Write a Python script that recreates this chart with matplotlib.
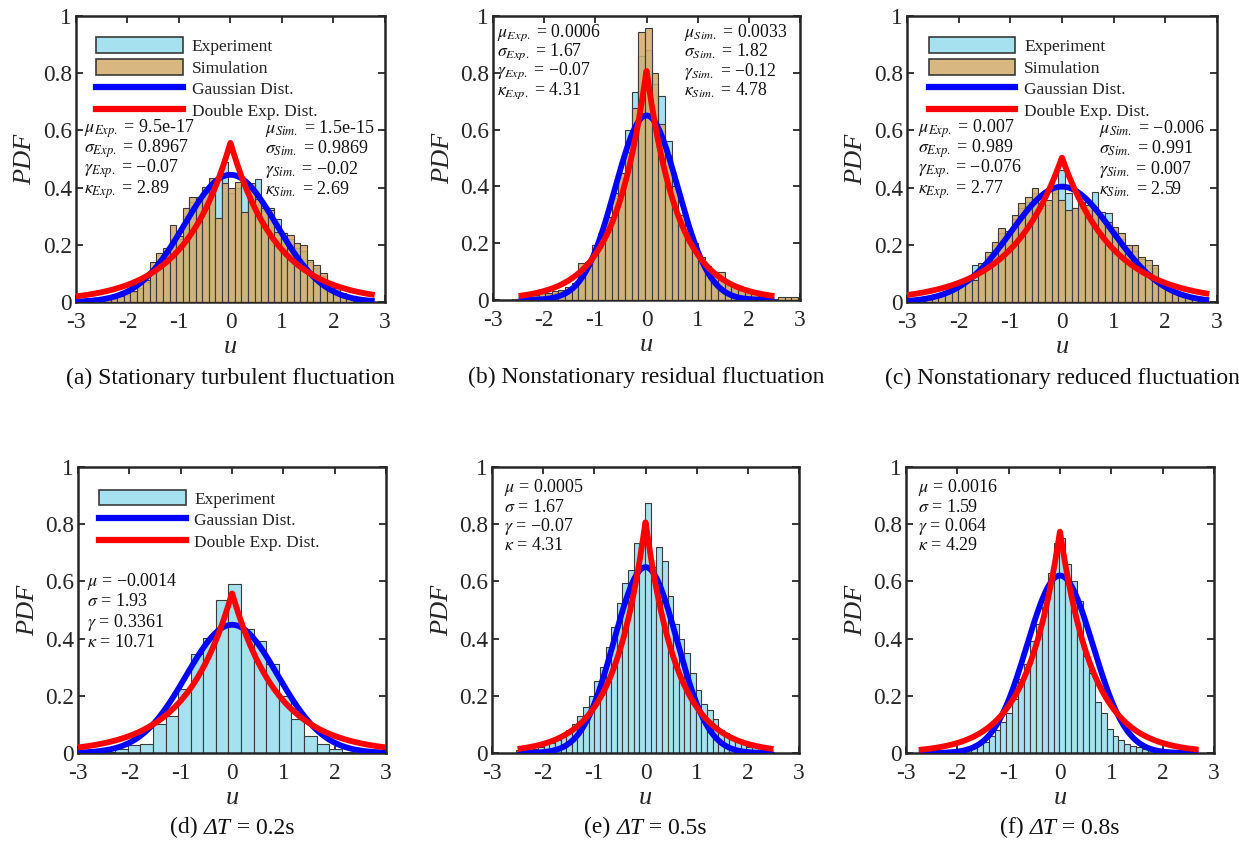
import numpy as np
import matplotlib
matplotlib.use("Agg")
import matplotlib.pyplot as plt
from matplotlib.patches import Patch
from matplotlib.lines import Line2D
from matplotlib.colors import to_rgba
from matplotlib.offsetbox import TextArea, HPacker, AnchoredOffsetbox

plt.rcParams['font.family'] = ['Liberation Serif', 'DejaVu Serif']
plt.rcParams['mathtext.fontset'] = 'stix'

# ------------------------------------------------------------------ data
# captions: (prefix, italic part, suffix)
captions = [('(a) Stationary turbulent fluctuation', '', ''),
            ('(b) Nonstationary residual fluctuation', '', ''),
            ('(c) Nonstationary reduced fluctuation', '', ''),
            ('(d) ', 'ΔT', ' = 0.2s'),
            ('(e) ', 'ΔT', ' = 0.5s'),
            ('(f) ', 'ΔT', ' = 0.8s')]

# histogram bins: first left edge and bin width per panel
bin_start = [-2.58, -2.63, -2.65, -2.52, -2.54, -2.54]
bin_width = [0.127, 0.13, 0.129, 0.245, 0.11, 0.115]

a_exp = [0.0, 0.005, 0.01, 0.02, 0.025, 0.035, 0.05, 0.07, 0.12, 0.15,
         0.18, 0.22, 0.22, 0.30, 0.35, 0.36, 0.39, 0.42, 0.43, 0.49,
         0.38, 0.40, 0.42, 0.40, 0.43, 0.32, 0.33, 0.29, 0.23, 0.22,
         0.19, 0.18, 0.14, 0.12, 0.09, 0.06, 0.04, 0.025, 0.01, 0.005]
a_sim = [0.005, 0.01, 0.015, 0.02, 0.03, 0.04, 0.065, 0.077, 0.14, 0.17,
         0.19, 0.27, 0.23, 0.33, 0.368, 0.368, 0.403, 0.432, 0.293, 0.415,
         0.40, 0.42, 0.316, 0.415, 0.36, 0.33, 0.32, 0.246, 0.24, 0.234,
         0.205, 0.20, 0.147, 0.13, 0.10, 0.07, 0.05, 0.03, 0.015, 0.005]

b_exp = [0.0, 0.005, 0.01, 0.015, 0.02, 0.02, 0.025, 0.03, 0.04, 0.05,
         0.11, 0.12, 0.18, 0.22, 0.28, 0.36, 0.43, 0.60, 0.733, 0.86,
         0.88, 0.76, 0.72, 0.56, 0.42, 0.28, 0.20, 0.18, 0.13, 0.11,
         0.08, 0.08, 0.05, 0.04, 0.03, 0.02, 0.015, 0.01, 0.005, 0.0,
         0.0, 0.0, 0.0]
b_sim = [0.005, 0.01, 0.014, 0.018, 0.023, 0.026, 0.03, 0.035, 0.047, 0.06,
         0.13, 0.135, 0.194, 0.235, 0.293, 0.376, 0.446, 0.52, 0.675, 0.945,
         0.957, 0.80, 0.62, 0.51, 0.40, 0.30, 0.22, 0.20, 0.15, 0.12,
         0.09, 0.10, 0.06, 0.05, 0.04, 0.03, 0.02, 0.015, 0.01, 0.005,
         0.01, 0.01, 0.01]

c_exp = [0.01, 0.015, 0.025, 0.035, 0.045, 0.06, 0.07, 0.13, 0.12, 0.16,
         0.20, 0.24, 0.24, 0.29, 0.33, 0.35, 0.38, 0.33, 0.34, 0.38,
         0.46, 0.38, 0.33, 0.33, 0.32, 0.385, 0.316, 0.31, 0.25, 0.22,
         0.19, 0.18, 0.15, 0.13, 0.12, 0.07, 0.05, 0.035, 0.025, 0.015,
         0.01, 0.005]
c_sim = [0.015, 0.02, 0.03, 0.04, 0.05, 0.065, 0.077, 0.077, 0.135, 0.176,
         0.21, 0.258, 0.25, 0.304, 0.345, 0.368, 0.397, 0.345, 0.357, 0.40,
         0.357, 0.32, 0.33, 0.35, 0.34, 0.33, 0.30, 0.28, 0.263, 0.24,
         0.20, 0.20, 0.158, 0.147, 0.13, 0.077, 0.06, 0.04, 0.03, 0.02,
         0.015, 0.01]

d_exp = [0.005, 0.015, 0.027, 0.033, 0.10, 0.13, 0.225, 0.347, 0.403, 0.536,
         0.592, 0.434, 0.39, 0.31, 0.20, 0.12, 0.06, 0.03, 0.015, 0.005]

e_exp = [0.01, 0.01, 0.01, 0.015, 0.02, 0.03, 0.035, 0.045, 0.06, 0.08,
         0.10, 0.13, 0.16, 0.20, 0.25, 0.30, 0.37, 0.44, 0.523, 0.596,
         0.64, 0.735, 0.73, 0.875, 0.65, 0.72, 0.67, 0.55, 0.45, 0.40,
         0.35, 0.28, 0.22, 0.17, 0.15, 0.12, 0.08, 0.07, 0.05, 0.04,
         0.03, 0.02, 0.02, 0.01, 0.01, 0.005]

f_exp = [0.0, 0.0, 0.005, 0.005, 0.01, 0.01, 0.02, 0.025, 0.03, 0.04,
         0.06, 0.08, 0.11, 0.14, 0.19, 0.26, 0.31, 0.39, 0.45, 0.51,
         0.63, 0.735, 0.75, 0.66, 0.60, 0.53, 0.34, 0.28, 0.18, 0.14,
         0.085, 0.06, 0.045, 0.03, 0.025, 0.02, 0.015, 0.01, 0.01, 0.005,
         0.005, 0.0, 0.0]

exp_data = [a_exp, b_exp, c_exp, d_exp, e_exp, f_exp]
sim_data = [a_sim, b_sim, c_sim, None, None, None]

# fitted distribution scale per panel (Gaussian sigma, double-exponential scale)
gauss_sigma = [0.8967, 0.614, 0.989, 0.89, 0.614, 0.643]
laplace_b = [0.8967, 0.617, 0.989, 0.893, 0.617, 0.645]
curve_xmin = [-3.0, -2.5, -3.0, -3.0, -2.5, -2.75]
curve_xmax = [2.8, 2.5, 2.85, 3.0, 2.5, 2.7]

left_stats = [
    [r'$\mu_{Exp.}$ = 9.5e-17', r'$\sigma_{Exp.}$ = 0.8967', r'$\gamma_{Exp.}$ = −0.07', r'$\kappa_{Exp.}$ = 2.89'],
    [r'$\mu_{Exp.}$ = 0.0006', r'$\sigma_{Exp.}$ = 1.67', r'$\gamma_{Exp.}$ = −0.07', r'$\kappa_{Exp.}$ = 4.31'],
    [r'$\mu_{Exp.}$ = 0.007', r'$\sigma_{Exp.}$ = 0.989', r'$\gamma_{Exp.}$ = −0.076', r'$\kappa_{Exp.}$ = 2.77'],
    [r'$\mu$ = −0.0014', r'$\sigma$ = 1.93', r'$\gamma$ = 0.3361', r'$\kappa$ = 10.71'],
    [r'$\mu$ = 0.0005', r'$\sigma$ = 1.67', r'$\gamma$ = −0.07', r'$\kappa$ = 4.31'],
    [r'$\mu$ = 0.0016', r'$\sigma$ = 1.59', r'$\gamma$ = 0.064', r'$\kappa$ = 4.29'],
]
right_stats = [
    [r'$\mu_{Sim.}$ = 1.5e-15', r'$\sigma_{Sim.}$ = 0.9869', r'$\gamma_{Sim.}$ = −0.02', r'$\kappa_{Sim.}$ = 2.69'],
    [r'$\mu_{Sim.}$ = 0.0033', r'$\sigma_{Sim.}$ = 1.82', r'$\gamma_{Sim.}$ = −0.12', r'$\kappa_{Sim.}$ = 4.78'],
    [r'$\mu_{Sim.}$ = −0.006', r'$\sigma_{Sim.}$ = 0.991', r'$\gamma_{Sim.}$ = 0.007', r'$\kappa_{Sim.}$ = 2.59'],
    None, None, None,
]

x_ticks = [-3, -2, -1, 0, 1, 2, 3]
x_ticklabels = ['-3', '-2', '-1', '0', '1', '2', '3']
y_ticks = [0, 0.2, 0.4, 0.6, 0.8, 1.0]
y_ticklabels = ['0', '0.2', '0.4', '0.6', '0.8', '1']

# ------------------------------------------------------------------ style / layout
axes_rect = [
    [0.0613, 0.6413, 0.2494, 0.3397],
    [0.3979, 0.6437, 0.2478, 0.3373],
    [0.7320, 0.6413, 0.2502, 0.3397],
    [0.0630, 0.1057, 0.2486, 0.3397],
    [0.3971, 0.1057, 0.2478, 0.3397],
    [0.7312, 0.1057, 0.2486, 0.3397],
]
stat_left_pos = [(0.027, 0.607), (0.012, 0.942), (0.037, 0.607), (0.03, 0.598), (0.04, 0.928), (0.038, 0.928)]
stat_right_x = [0.612, 0.622, 0.618, None, None, None]
stat_step = [0.071, 0.068, 0.071, 0.07, 0.068, 0.068]
stat_size = [13, 12.8, 13, 13, 13, 13]
legend_anchor = [(0.066, 0.925), None, (0.07, 0.925), (0.068, 0.92), None, None]
caption_y = [-0.266, -0.271, -0.266, -0.262, -0.262, -0.262]

exp_color = to_rgba('#a6e1ef', 1.0)
sim_color = to_rgba('#d4ad6e', 0.88)
edge_col = '#3a3a3a'
axis_col = '#262626'
cap_size = 17

fig = plt.figure(figsize=(12.39, 8.42), dpi=100)

for i in range(6):
    ax = fig.add_axes(axes_rect[i])
    w = bin_width[i]
    h = np.asarray(exp_data[i], dtype=float)
    cen = bin_start[i] + w * (np.arange(len(h)) + 0.5)
    m = h > 0
    ax.bar(cen[m], h[m], width=w, facecolor=exp_color, edgecolor=edge_col, linewidth=0.8, zorder=2)
    if sim_data[i] is not None:
        hs = np.asarray(sim_data[i], dtype=float)
        cs = bin_start[i] + w * (np.arange(len(hs)) + 0.5)
        ms = hs > 0
        ax.bar(cs[ms], hs[ms], width=w, facecolor=sim_color, edgecolor=edge_col, linewidth=0.8, zorder=3)

    x = np.linspace(curve_xmin[i], curve_xmax[i], 800)
    s = gauss_sigma[i]
    g = np.exp(-x ** 2 / (2 * s ** 2)) / (s * np.sqrt(2 * np.pi))
    b = laplace_b[i]
    lap = np.exp(-np.abs(x) / b) / (2 * b)
    ax.plot(x, g, color='#0000ff', lw=4.2, zorder=4, solid_capstyle='butt')
    ax.plot(x, lap, color='#ff0000', lw=4.2, zorder=5, solid_capstyle='butt')

    ax.set_xlim(-3, 3)
    ax.set_ylim(0, 1)
    ax.set_xticks(x_ticks)
    ax.set_xticklabels(x_ticklabels)
    ax.set_yticks(y_ticks)
    ax.set_yticklabels(y_ticklabels)
    ax.tick_params(direction='in', top=True, right=True, length=5, width=1.3,
                   labelsize=16.8, colors=axis_col, labelcolor='#262626')
    ax.tick_params(axis='x', pad=7)
    ax.tick_params(axis='y', pad=3)
    for sp in ax.spines.values():
        sp.set_linewidth(1.8)
        sp.set_color(axis_col)

    ax.text(0.5, -0.158, 'u', transform=ax.transAxes, ha='center', va='center',
            fontsize=19, fontstyle='italic', color='#262626')
    ax.text(-0.163, 0.5, 'PDF', transform=ax.transAxes, ha='center', va='center',
            rotation=90, fontsize=19, fontstyle='italic', color='#262626')

    pre, ital, suf = captions[i]
    parts = [TextArea(pre, textprops=dict(fontsize=cap_size, color='#111111'))]
    if ital:
        parts.append(TextArea(ital, textprops=dict(fontsize=cap_size, color='#111111', fontstyle='italic')))
        parts.append(TextArea(suf, textprops=dict(fontsize=cap_size, color='#111111')))
    box = HPacker(children=parts, align='baseline', pad=0, sep=0)
    anc = AnchoredOffsetbox(loc='center', child=box, pad=0, borderpad=0, frameon=False,
                            bbox_to_anchor=(0.5, caption_y[i]), bbox_transform=ax.transAxes)
    ax.add_artist(anc)

    lx, ly = stat_left_pos[i]
    for j, t in enumerate(left_stats[i]):
        ax.text(lx, ly - j * stat_step[i], t, transform=ax.transAxes, ha='left', va='center',
                fontsize=stat_size[i], color='#111111', zorder=6)
    if right_stats[i] is not None:
        for j, t in enumerate(right_stats[i]):
            ax.text(stat_right_x[i], ly - j * stat_step[i], t, transform=ax.transAxes, ha='left',
                    va='center', fontsize=stat_size[i], color='#111111', zorder=6)

    if legend_anchor[i] is not None:
        handles = [Patch(facecolor=exp_color, edgecolor=edge_col, linewidth=1.2)]
        labels = ['Experiment']
        if sim_data[i] is not None:
            handles.append(Patch(facecolor=sim_color, edgecolor=edge_col, linewidth=1.2))
            labels.append('Simulation')
        handles += [Line2D([0], [0], color='#0000ff', lw=4.5),
                    Line2D([0], [0], color='#ff0000', lw=4.5)]
        labels += ['Gaussian Dist.', 'Double Exp. Dist.']
        leg = ax.legend(handles, labels, loc='upper left', bbox_to_anchor=legend_anchor[i],
                        frameon=False, fontsize=12.5, handlelength=5.0, handleheight=1.0,
                        labelspacing=0.22, handletextpad=0.5, borderpad=0, borderaxespad=0)
        for txt in leg.get_texts():
            txt.set_color('#222222')

fig.savefig('out.png', dpi=100)
